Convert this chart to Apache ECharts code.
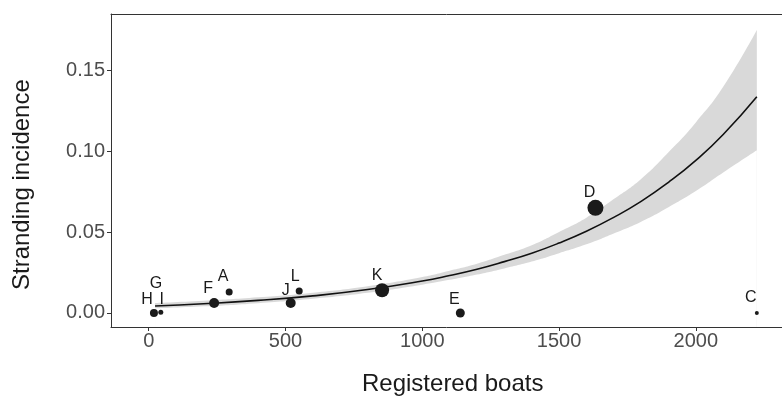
<!DOCTYPE html>
<html>
<head>
<meta charset="utf-8">
<script src="https://cdn.jsdelivr.net/npm/echarts@6/dist/echarts.min.js"></script>
<style>
  html, body { margin: 0; padding: 0; background: #fff; }
  #chart { width: 782px; height: 399px; }
</style>
</head>
<body>
<div id="chart"></div>
<script>
// sites: registered boats vs stranding incidence
var siteNames = ['H', 'G', 'I', 'F', 'A', 'J', 'L', 'K', 'E', 'D', 'C'];
var siteBoats = [19, 19, 44, 239, 294, 519, 550, 853, 1139, 1633, 2223];
var siteIncidence = [0.000, 0.000, 0.0005, 0.0062, 0.0130, 0.0062, 0.0136, 0.0141, 0.000, 0.0651, 0.000];
var siteWeight = [8, 6, 5, 10, 7, 10, 7, 14, 9, 16, 4];

// fitted curve and confidence band
var fitBoats = [23, 200, 400, 600, 800, 1000, 1100, 1200, 1300, 1400, 1500, 1600, 1700, 1800, 1900, 2000, 2100, 2223];
var fitMean = [0.0043, 0.0057, 0.0078, 0.0106, 0.0145, 0.0198, 0.0232, 0.0271, 0.0318, 0.0370, 0.0433, 0.0506, 0.0592, 0.0691, 0.0809, 0.0945, 0.1105, 0.1339];
var fitLower = [0.0028, 0.0041, 0.0061, 0.0088, 0.0125, 0.0175, 0.0205, 0.0238, 0.0276, 0.0318, 0.0370, 0.0425, 0.0492, 0.0565, 0.0655, 0.0755, 0.0870, 0.1008];
var fitUpper = [0.0062, 0.0076, 0.0097, 0.0126, 0.0166, 0.0223, 0.0262, 0.0305, 0.0360, 0.0420, 0.0502, 0.0590, 0.0705, 0.0830, 0.0995, 0.1180, 0.1400, 0.1752];

var xTicks = [0, 500, 1000, 1500, 2000];
var yTicks = [0, 0.05, 0.10, 0.15];

// label nudges (like ggrepel), in px
var labelNudge = {
    H: [-7, -13], G: [2, -29], I: [1, -13], F: [-6, -14], A: [-6, -15],
    J: [-5, -12], L: [-4, -14], K: [-5, -15], E: [-6, -13], D: [-6, -15], C: [-6, -15]
};

var font = '"Liberation Sans", Arial, Helvetica, sans-serif';

var mychart = echarts.init(document.getElementById('chart'), null, {renderer: 'canvas'});

function pairs(ys) {
    return fitBoats.map(function (b, i) { return [b, ys[i]]; });
}
var pointData = siteNames.map(function (n, i) {
    return {
        name: n,
        value: [siteBoats[i], siteIncidence[i]],
        symbolSize: siteWeight[i],
        label: {offset: labelNudge[n]}
    };
});

var axisLine = {show: true, onZero: false, lineStyle: {color: '#333', width: 1}};

var option = {
    animation: false,
    backgroundColor: '#fff',
    grid: {left: 111, top: 14, right: 0, bottom: 72},
    xAxis: [{
        type: 'value',
        min: -138,
        max: 2315,
        z: 5,
        axisLine: axisLine,
        axisTick: {show: true, length: 4, customValues: xTicks, lineStyle: {color: '#333'}},
        axisLabel: {
            customValues: xTicks, fontSize: 20, color: '#4d4d4d', fontFamily: font, margin: 4,
            formatter: function (v) { return String(v); }
        },
        splitLine: {show: false}
    }, {
        type: 'value',
        position: 'top',
        min: -138,
        max: 2315,
        z: 5,
        axisLine: axisLine,
        axisTick: {show: false},
        axisLabel: {show: false},
        splitLine: {show: false}
    }],
    yAxis: {
        type: 'value',
        min: -0.00868,
        max: 0.1851,
        z: 5,
        axisLine: axisLine,
        axisTick: {show: true, length: 4, customValues: yTicks, lineStyle: {color: '#333'}},
        axisLabel: {
            customValues: yTicks, fontSize: 20, color: '#4d4d4d', fontFamily: font, margin: 6,
            formatter: function (v) { return v.toFixed(2); }
        },
        splitLine: {show: false}
    },
    graphic: [{
        type: 'text',
        left: 455 - 93,
        top: 372,
        style: {text: 'Registered boats', font: '24px ' + font, fill: '#1a1a1a'}
    }, {
        type: 'text',
        x: 10,
        y: 290,
        rotation: Math.PI / 2,
        style: {text: 'Stranding incidence', font: '24px ' + font, fill: '#1a1a1a'}
    }],
    series: [{
        // grey fill under the upper bound ...
        type: 'line',
        data: pairs(fitUpper),
        smooth: true,
        symbol: 'none',
        lineStyle: {width: 0, opacity: 0},
        areaStyle: {color: '#d9d9d9', opacity: 1, origin: 'start'},
        silent: true,
        z: 1
    }, {
        // ... cut away below the lower bound
        type: 'line',
        data: pairs(fitLower),
        smooth: true,
        symbol: 'none',
        lineStyle: {width: 0, opacity: 0},
        areaStyle: {color: '#ffffff', opacity: 1, origin: 'start'},
        silent: true,
        z: 1
    }, {
        type: 'line',
        data: pairs(fitMean),
        smooth: true,
        symbol: 'none',
        lineStyle: {color: '#111', width: 1.6},
        z: 2
    }, {
        type: 'scatter',
        data: pointData,
        itemStyle: {color: '#1a1a1a', opacity: 1},
        label: {
            show: true,
            position: 'inside',
            formatter: '{b}',
            fontSize: 16,
            color: '#1a1a1a',
            fontFamily: font
        },
        z: 3
    }]
};

mychart.setOption(option);
</script>
</body>
</html>
